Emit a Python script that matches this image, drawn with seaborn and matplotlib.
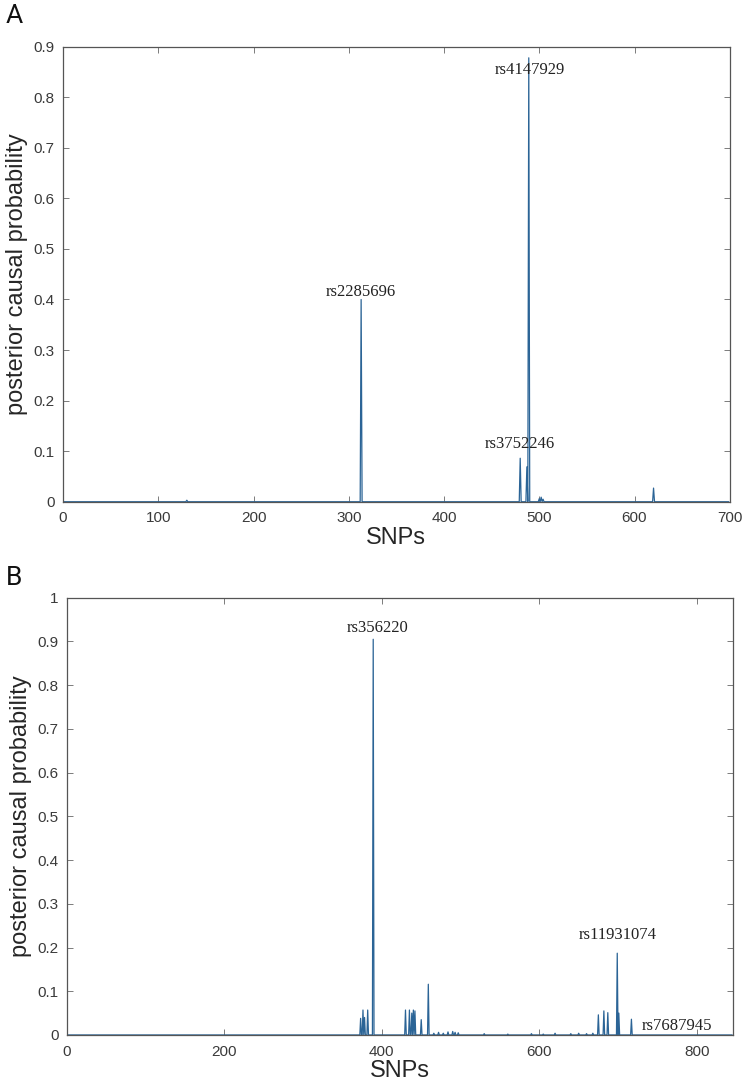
import numpy as np
import matplotlib
matplotlib.use("Agg")
import matplotlib.pyplot as plt
import pandas as pd
import seaborn as sns

# panel A: SNP index -> posterior causal probability (all others ~0)
n_snps_a = 700
spike_idx_a = [130, 313, 480, 487, 489, 500, 502, 504, 620]
spike_val_a = [0.003, 0.40, 0.086, 0.069, 0.878, 0.006, 0.009, 0.005, 0.027]
labels_a = ["rs4147929", "rs2285696", "rs3752246"]
label_x_a = [490, 313, 480]
label_y_a = [0.853, 0.415, 0.115]

# panel B
n_snps_b = 846
spike_idx_b = [373, 376, 378, 382, 389, 430, 435, 438, 440, 442, 450, 459,
               466, 472, 478, 484, 490, 493, 497, 530, 560, 590, 605, 620,
               640, 650, 660, 668, 675, 682, 687, 699, 701, 717]
spike_val_b = [0.038, 0.057, 0.040, 0.057, 0.905, 0.057, 0.057, 0.050, 0.057,
               0.055, 0.035, 0.116, 0.004, 0.006, 0.004, 0.007, 0.008, 0.006,
               0.005, 0.003, 0.002, 0.003, 0.002, 0.004, 0.003, 0.004, 0.003,
               0.004, 0.046, 0.055, 0.051, 0.187, 0.05, 0.036]
labels_b = ["rs356220", "rs11931074", "rs7687945"]
label_x_b = [395, 700, 775]
label_y_b = [0.93, 0.228, 0.02]


def build(n, idx, val):
    y = np.zeros(n)
    y[idx] = val
    return pd.DataFrame({"snp": np.arange(n), "pp": y})


df_a = build(n_snps_a, spike_idx_a, spike_val_a)
df_b = build(n_snps_b, spike_idx_b, spike_val_b)

sns.set_style("ticks")
plt.rcParams["font.family"] = ["Liberation Sans", "DejaVu Sans"]

fig = plt.figure(figsize=(7.5, 10.86), dpi=100)
ax_a = fig.add_axes([0.084, 0.538, 0.889, 0.419])
ax_b = fig.add_axes([0.0893, 0.0470, 0.888, 0.4026])

line_col = "#2b6496"
tick_col = "#3a3a3a"

for ax, df, xmax, ymax, yt, labs, lx, ly in [
    (ax_a, df_a, 700, 0.9, np.arange(0, 0.91, 0.1), labels_a, label_x_a, label_y_a),
    (ax_b, df_b, 846, 1.0, np.arange(0, 1.01, 0.1), labels_b, label_x_b, label_y_b),
]:
    sns.lineplot(data=df, x="snp", y="pp", ax=ax, color=line_col, linewidth=0.9)
    ax.set_xlim(0, xmax)
    ax.set_ylim(0, ymax)
    ax.set_yticks(yt)
    ax.set_yticklabels(["0" if v == 0 else ("1" if abs(v - 1) < 1e-9 else f"{v:.1f}") for v in yt])
    ax.set_xlabel("SNPs", fontsize=17, labelpad=1)
    ax.set_ylabel("posterior causal probability", fontsize=17, labelpad=4)
    ax.tick_params(direction="in", length=4, width=0.6, top=True, right=True,
                   labelsize=11, labelcolor=tick_col, color="#666666")
    ax.tick_params(axis="x", pad=7)
    ax.tick_params(axis="y", pad=6)
    for s in ax.spines.values():
        s.set_linewidth(0.9)
        s.set_color("#555555")
    for t, x, y in zip(labs, lx, ly):
        ax.text(x, y, t, ha="center", va="center", fontsize=12,
                family="Liberation Serif", color="#222222")

ax_a.set_xticks(np.arange(0, 701, 100))
ax_b.set_xticks(np.arange(0, 801, 200))

fig.text(0.008, 0.985, "A", fontsize=19, family="Roboto", va="center", color="#111111")
fig.text(0.008, 0.468, "B", fontsize=19, family="Roboto", va="center", color="#111111")

fig.savefig("out.png", dpi=100)
